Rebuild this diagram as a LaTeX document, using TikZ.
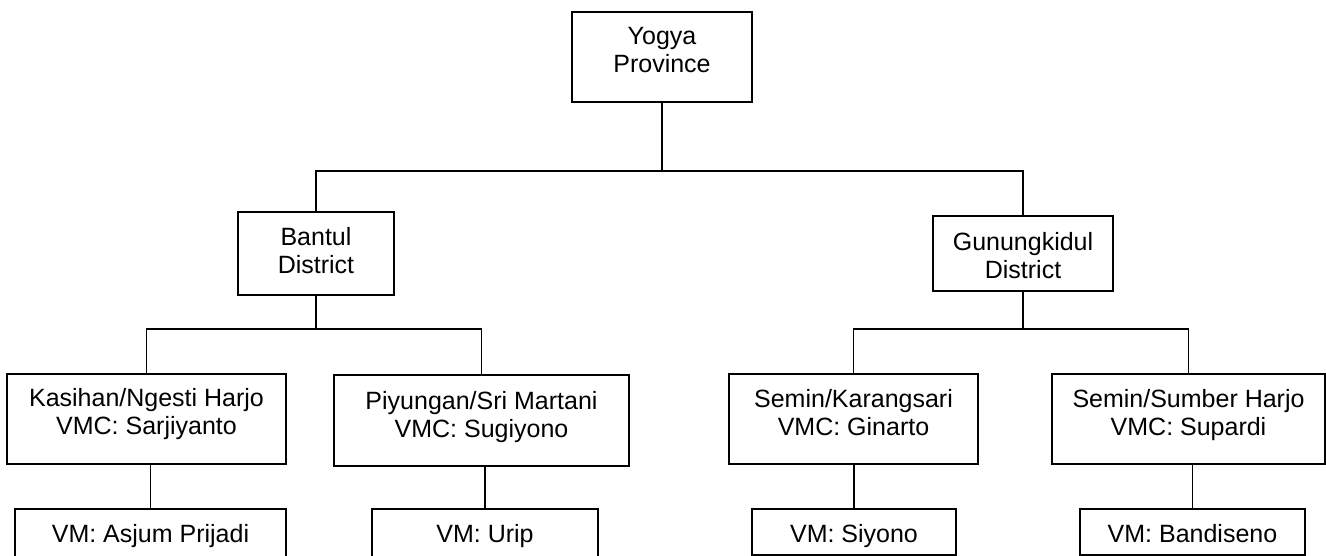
\documentclass[tikz,border=0pt]{standalone}
\usepackage{fontspec}
\setmainfont{Liberation Sans}
\begin{document}
\begin{tikzpicture}[x=0.75pt,y=-0.75pt,
  box/.style={draw=black, line width=1.4pt, fill=white, inner sep=2pt, align=center,
    font=\fontsize{18.75pt}{21pt}\selectfont, text height=34.5pt},
  onebox/.style={box, text height=13.5pt},
  link/.style={draw=black, line width=1.4pt}]
\useasboundingbox (0,0) rectangle (1326,556);
\begin{scope}
\clip (0,0) rectangle (1326,556);
% level 0
\node[box, minimum width=135pt, minimum height=67.5pt, text depth=10.5pt] (yogya) at (662,57) {Yogya\\Province};
% level 1
\node[box, minimum width=117pt, minimum height=62.25pt, text depth=5.25pt] (bantul) at (316,253.5) {Bantul\\District};
\node[box, minimum width=135pt, minimum height=56.25pt, text height=39pt, text depth=2.25pt] (gunung) at (1023,253.5) {Gunungkidul\\District};
% level 2
\node[box, minimum width=209.25pt, minimum height=67.5pt, text depth=12pt] (kasihan) at (146.5,419) {Kasihan/Ngesti Harjo\\VMC: Sarjiyanto};
\node[box, minimum width=221.25pt, minimum height=68.25pt, text depth=9.75pt] (piyungan) at (481.5,420.5) {Piyungan/Sri Martani\\VMC: Sugiyono};
\node[box, minimum width=186.75pt, minimum height=67.5pt, text depth=10.5pt] (seminK) at (853.5,419) {Semin/Karangsari\\VMC: Ginarto};
\node[box, minimum width=204.75pt, minimum height=67.5pt, text depth=10.5pt] (seminS) at (1188.5,419) {Semin/Sumber Harjo\\VMC: Supardi};
% level 3
\node[onebox, minimum width=203.25pt, minimum height=39.75pt, text depth=3.75pt] (asjum) at (150.5,535.5) {VM: Asjum Prijadi};
\node[onebox, minimum width=169.5pt, minimum height=39.75pt, text depth=3.75pt] (urip) at (485,535.5) {VM: Urip};
\node[onebox, minimum width=153pt, minimum height=34.5pt, text height=15pt, text depth=0pt] (siyono) at (854,532) {VM: Siyono};
\node[onebox, minimum width=168.75pt, minimum height=34.5pt, text height=15pt, text depth=0pt] (bandiseno) at (1192.5,532) {VM: Bandiseno};
% connectors
\draw[link] (yogya.south) -- (yogya.south |- 0,171) coordinate (ybus);
\draw[link] (bantul.north) |- (ybus) -| (gunung.north);
\draw[link] (bantul.south) -- (bantul.south |- 0,329) coordinate (bbus);
\draw[link] (kasihan.north) |- (bbus) -| (piyungan.north);
\draw[link] (gunung.south) -- (gunung.south |- 0,329) coordinate (gbus);
\draw[link] (seminK.north) |- (gbus) -| (seminS.north);
\draw[link] (asjum.north) -- (asjum.north |- kasihan.south);
\draw[link] (urip.north) -- (urip.north |- piyungan.south);
\draw[link] (siyono.north) -- (siyono.north |- seminK.south);
\draw[link] (bandiseno.north) -- (bandiseno.north |- seminS.south);
\end{scope}
\end{tikzpicture}
\end{document}
